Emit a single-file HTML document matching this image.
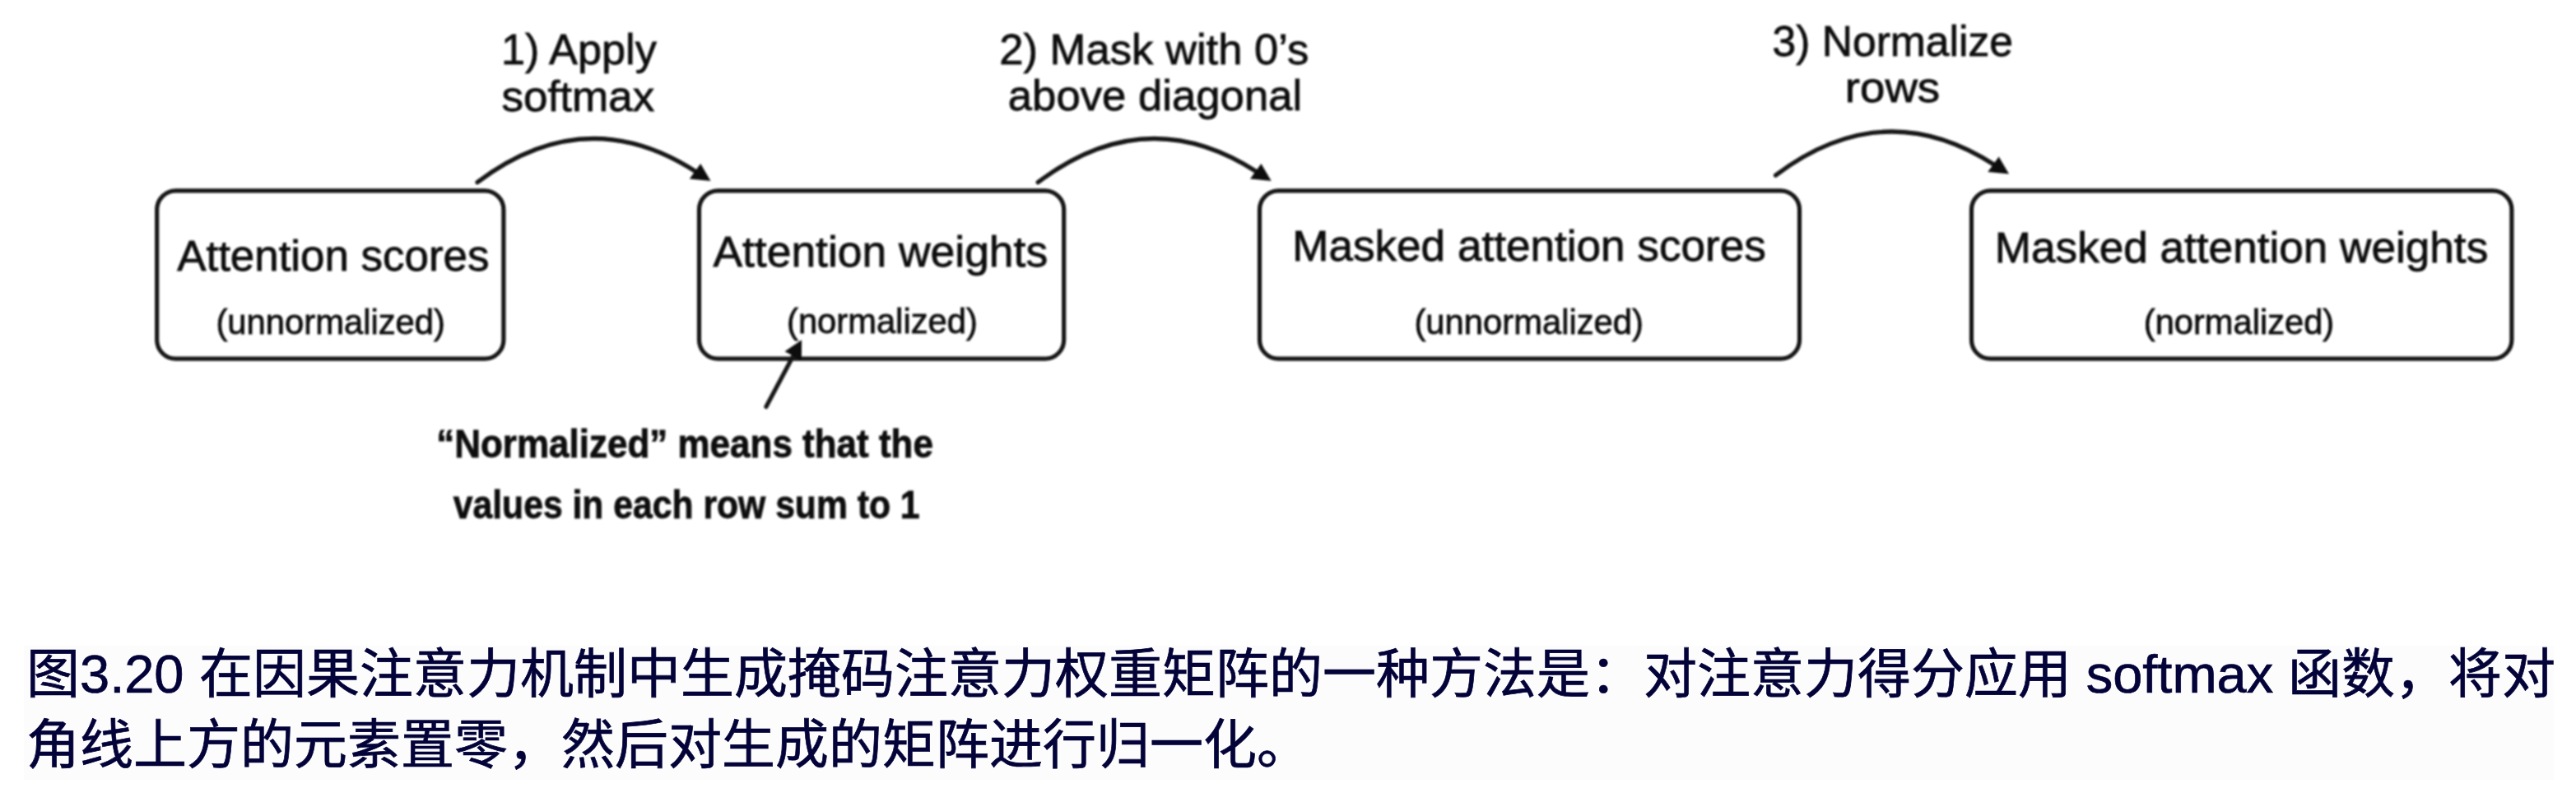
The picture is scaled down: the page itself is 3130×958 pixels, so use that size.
<!DOCTYPE html>
<html lang="zh-CN"><head><meta charset="utf-8">
<style>
html,body{margin:0;padding:0;background:#fff;}
body{width:3130px;height:958px;overflow:hidden;position:relative;font-family:"Liberation Sans",sans-serif;}
svg{position:absolute;left:0;top:0;}
.cap{position:absolute;left:29px;top:785px;width:3074px;height:163px;background:#fcfcfc;}
.ln{position:absolute;left:32px;font-weight:500;-webkit-text-stroke:0.7px #03033a;filter:blur(0.4px);white-space:nowrap;color:#03033a;font-size:65px;line-height:86px;font-family:"Liberation Sans",sans-serif;}
</style></head>
<body>
<div class="cap"></div>
<svg width="3130" height="958" viewBox="0 0 3130 958">
<defs><filter id="bl" x="-2%" y="-2%" width="104%" height="104%"><feGaussianBlur stdDeviation="1.1"/></filter></defs>
<g filter="url(#bl)">
<g fill="none" stroke="#141414" stroke-width="5.2" stroke-linecap="round">
<rect x="190.7" y="231.9" width="421.2" height="204.3" rx="23" ry="23"/>
<rect x="849.5" y="231.9" width="443.2" height="204.3" rx="23" ry="23"/>
<rect x="1530.5" y="231.9" width="656" height="204.3" rx="23" ry="23"/>
<rect x="2395.5" y="231.9" width="656.4" height="204.3" rx="23" ry="23"/>
<path d="M580.0 221.6 Q711.8 122.1 846.0 209.0"/>
<path d="M1261.2 221.6 Q1393.0 122.1 1527.2 209.0"/>
<path d="M2157.5 213.1 Q2289.3 113.6 2423.5 200.5"/>
<path d="M930.9 494.5 L966 428.5"/>
</g>
<g fill="#111">
<path d="M863.5 219.9 L837.8 217.5 L851.2 198.9 Z"/>
<path d="M1544.7 219.9 L1519.0 217.5 L1532.4 198.9 Z"/>
<path d="M2441.0 211.4 L2415.3 209.0 L2428.7 190.4 Z"/>
<path d="M974.1 413.3 L953.5 427.3 L973.9 438.1 Z"/>
</g>
<g fill="#111" stroke="#111" stroke-width="0.8" font-family="Liberation Sans">
<text x="215.2" y="329.4" font-size="51" textLength="379.2" lengthAdjust="spacingAndGlyphs">Attention scores</text>
<text x="262.4" y="406" font-size="42" textLength="278.6" lengthAdjust="spacingAndGlyphs">(unnormalized)</text>
<text x="866.4" y="324.4" font-size="51" textLength="406.7" lengthAdjust="spacingAndGlyphs">Attention weights</text>
<text x="956.0" y="405" font-size="42" textLength="231.8" lengthAdjust="spacingAndGlyphs">(normalized)</text>
<text x="1570.2" y="317" font-size="51" textLength="575.6" lengthAdjust="spacingAndGlyphs">Masked attention scores</text>
<text x="1718.4" y="405.6" font-size="42" textLength="278.6" lengthAdjust="spacingAndGlyphs">(unnormalized)</text>
<text x="2423.8" y="318.5" font-size="51" textLength="599.4" lengthAdjust="spacingAndGlyphs">Masked attention weights</text>
<text x="2604.8" y="405.6" font-size="42" textLength="231.4" lengthAdjust="spacingAndGlyphs">(normalized)</text>
<text x="609.0" y="77.5" font-size="52" textLength="188.8" lengthAdjust="spacingAndGlyphs">1) Apply</text>
<text x="609.4" y="134.5" font-size="52" textLength="185.8" lengthAdjust="spacingAndGlyphs">softmax</text>
<text x="1214.2" y="77.8" font-size="52" textLength="376.2" lengthAdjust="spacingAndGlyphs">2) Mask with 0’s</text>
<text x="1224.8" y="134.4" font-size="52" textLength="357.4" lengthAdjust="spacingAndGlyphs">above diagonal</text>
<text x="2153.6" y="67.8" font-size="52" textLength="292.3" lengthAdjust="spacingAndGlyphs">3) Normalize</text>
<text x="2241.8" y="124.4" font-size="52" textLength="115.4" lengthAdjust="spacingAndGlyphs">rows</text>
<text x="530.2" y="555.5" font-size="48" font-weight="bold" textLength="603.7" lengthAdjust="spacingAndGlyphs">“Normalized” means that the</text>
<text x="550.8" y="630" font-size="48" font-weight="bold" textLength="566.8" lengthAdjust="spacingAndGlyphs">values in each row sum to 1</text>
</g>
</g>
</svg>
<div class="ln" style="top:777px">图3.20 在因果注意力机制中生成掩码注意力权重矩阵的一种方法是：对注意力得分应用 softmax 函数，将对</div>
<div class="ln" style="top:863px">角线上方的元素置零，然后对生成的矩阵进行归一化。</div>
</body></html>
